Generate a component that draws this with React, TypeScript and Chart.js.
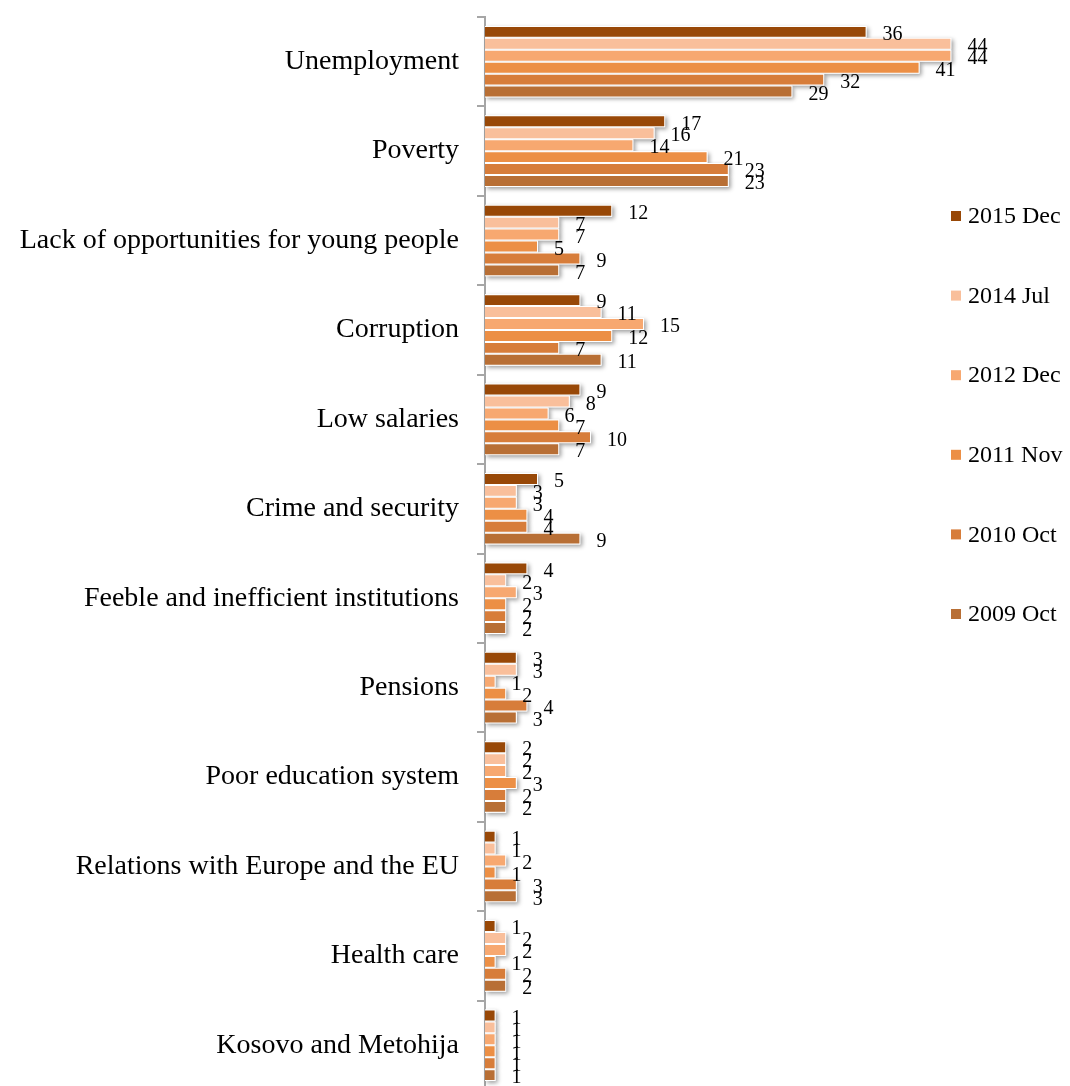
import React, { useEffect, useRef } from "react";
import { Chart, registerables } from "chart.js";

Chart.register(...registerables);

const categories = [
  "Unemployment",
  "Poverty",
  "Lack of opportunities for young people",
  "Corruption",
  "Low salaries",
  "Crime and security",
  "Feeble and inefficient institutions",
  "Pensions",
  "Poor education system",
  "Relations with Europe and the EU",
  "Health care",
  "Kosovo and Metohija",
];

const seriesNames = ["2015 Dec", "2014 Jul", "2012 Dec", "2011 Nov", "2010 Oct", "2009 Oct"];
const seriesColors = ["#984807", "#F9BF9B", "#F7A870", "#EC8F45", "#D77D3A", "#B86F35"];

const s2015Dec = [36, 17, 12, 9, 9, 5, 4, 3, 2, 1, 1, 1];
const s2014Jul = [44, 16, 7, 11, 8, 3, 2, 3, 2, 1, 2, 1];
const s2012Dec = [44, 14, 7, 15, 6, 3, 3, 1, 2, 2, 2, 1];
const s2011Nov = [41, 21, 5, 12, 7, 4, 2, 2, 3, 1, 1, 1];
const s2010Oct = [32, 23, 9, 7, 10, 4, 2, 4, 2, 3, 2, 1];
const s2009Oct = [29, 23, 7, 11, 7, 9, 2, 3, 2, 3, 2, 1];

const seriesValues = [s2015Dec, s2014Jul, s2012Dec, s2011Nov, s2010Oct, s2009Oct];

const FONT = "'Liberation Serif', serif";

const shadowPlugin = {
  id: "barShadow",
  beforeDatasetsDraw(chart: any) {
    const ctx = chart.ctx;
    ctx.save();
    ctx.shadowColor = "rgba(0,0,0,0.38)";
    ctx.shadowBlur = 4;
    ctx.shadowOffsetX = 2;
    ctx.shadowOffsetY = 2;
    ctx.fillStyle = "#ffffff";
    chart.data.datasets.forEach((_d: any, i: number) => {
      const meta = chart.getDatasetMeta(i);
      meta.data.forEach((bar: any) => {
        const { x, y, base, height } = bar.getProps(["x", "y", "base", "height"], true);
        ctx.fillRect(base, y - height / 2, x - base, height);
      });
    });
    ctx.restore();
  },
};

const labelPlugin = {
  id: "barLabels",
  afterDatasetsDraw(chart: any) {
    const ctx = chart.ctx;
    ctx.save();
    ctx.font = `20px ${FONT}`;
    ctx.fillStyle = "#000000";
    ctx.textAlign = "left";
    ctx.textBaseline = "middle";
    chart.data.datasets.forEach((d: any, i: number) => {
      const meta = chart.getDatasetMeta(i);
      meta.data.forEach((bar: any, j: number) => {
        const { x, y } = bar.getProps(["x", "y"], true);
        ctx.fillText(String(d.data[j]), x + 16, y + 3);
      });
    });
    ctx.restore();
  },
};

const legendPlugin = {
  id: "sideLegend",
  afterDraw(chart: any) {
    const ctx = chart.ctx;
    ctx.save();
    ctx.font = `24px ${FONT}`;
    ctx.textAlign = "left";
    ctx.textBaseline = "middle";
    seriesNames.forEach((name, i) => {
      const cy = 216 + i * 79.6;
      ctx.fillStyle = seriesColors[i];
      ctx.fillRect(951, cy - 5, 10, 10);
      ctx.fillStyle = "#000000";
      ctx.fillText(name, 968, cy + 1);
    });
    ctx.restore();
  },
};

export default function App() {
  const ref = useRef<HTMLCanvasElement | null>(null);
  useEffect(() => {
    if (!ref.current) return;
    const chart = new Chart(ref.current, {
      type: "bar",
      data: {
        labels: categories,
        datasets: seriesNames.map((name, i) => ({
          label: name,
          data: seriesValues[i],
          backgroundColor: seriesColors[i],
          borderColor: "#ffffff",
          borderWidth: 1,
          categoryPercentage: 0.8,
          barPercentage: 1,
        })),
      },
      options: {
        indexAxis: "y",
        responsive: false,
        animation: false,
        layout: { padding: { top: 17, right: 55, bottom: 10, left: 0 } },
        plugins: { legend: { display: false }, tooltip: { enabled: false } },
        scales: {
          x: { display: false, min: 0, max: 50 },
          y: {
            offset: true,
            afterFit: (s: any) => {
              s.width = 485;
              s.paddingTop = 0;
              s.paddingBottom = 0;
            },
            grid: {
              offset: true,
              drawOnChartArea: false,
              drawTicks: true,
              tickLength: 8,
              color: "#a6a6a6",
              lineWidth: 2,
            },
            border: { color: "#a6a6a6", width: 2 },
            ticks: {
              color: "#000000",
              padding: 18,
              font: { family: FONT, size: 28 },
            },
          },
        },
      },
      plugins: [shadowPlugin, labelPlugin, legendPlugin],
    });
    return () => chart.destroy();
  }, []);
  return (
    <div style={{ position: "fixed", left: 0, top: 0, width: 1070, height: 1086, overflow: "hidden", background: "#fff" }}>
      <canvas ref={ref} width={1070} height={1100} style={{ width: 1070, height: 1100 }} />
    </div>
  );
}
